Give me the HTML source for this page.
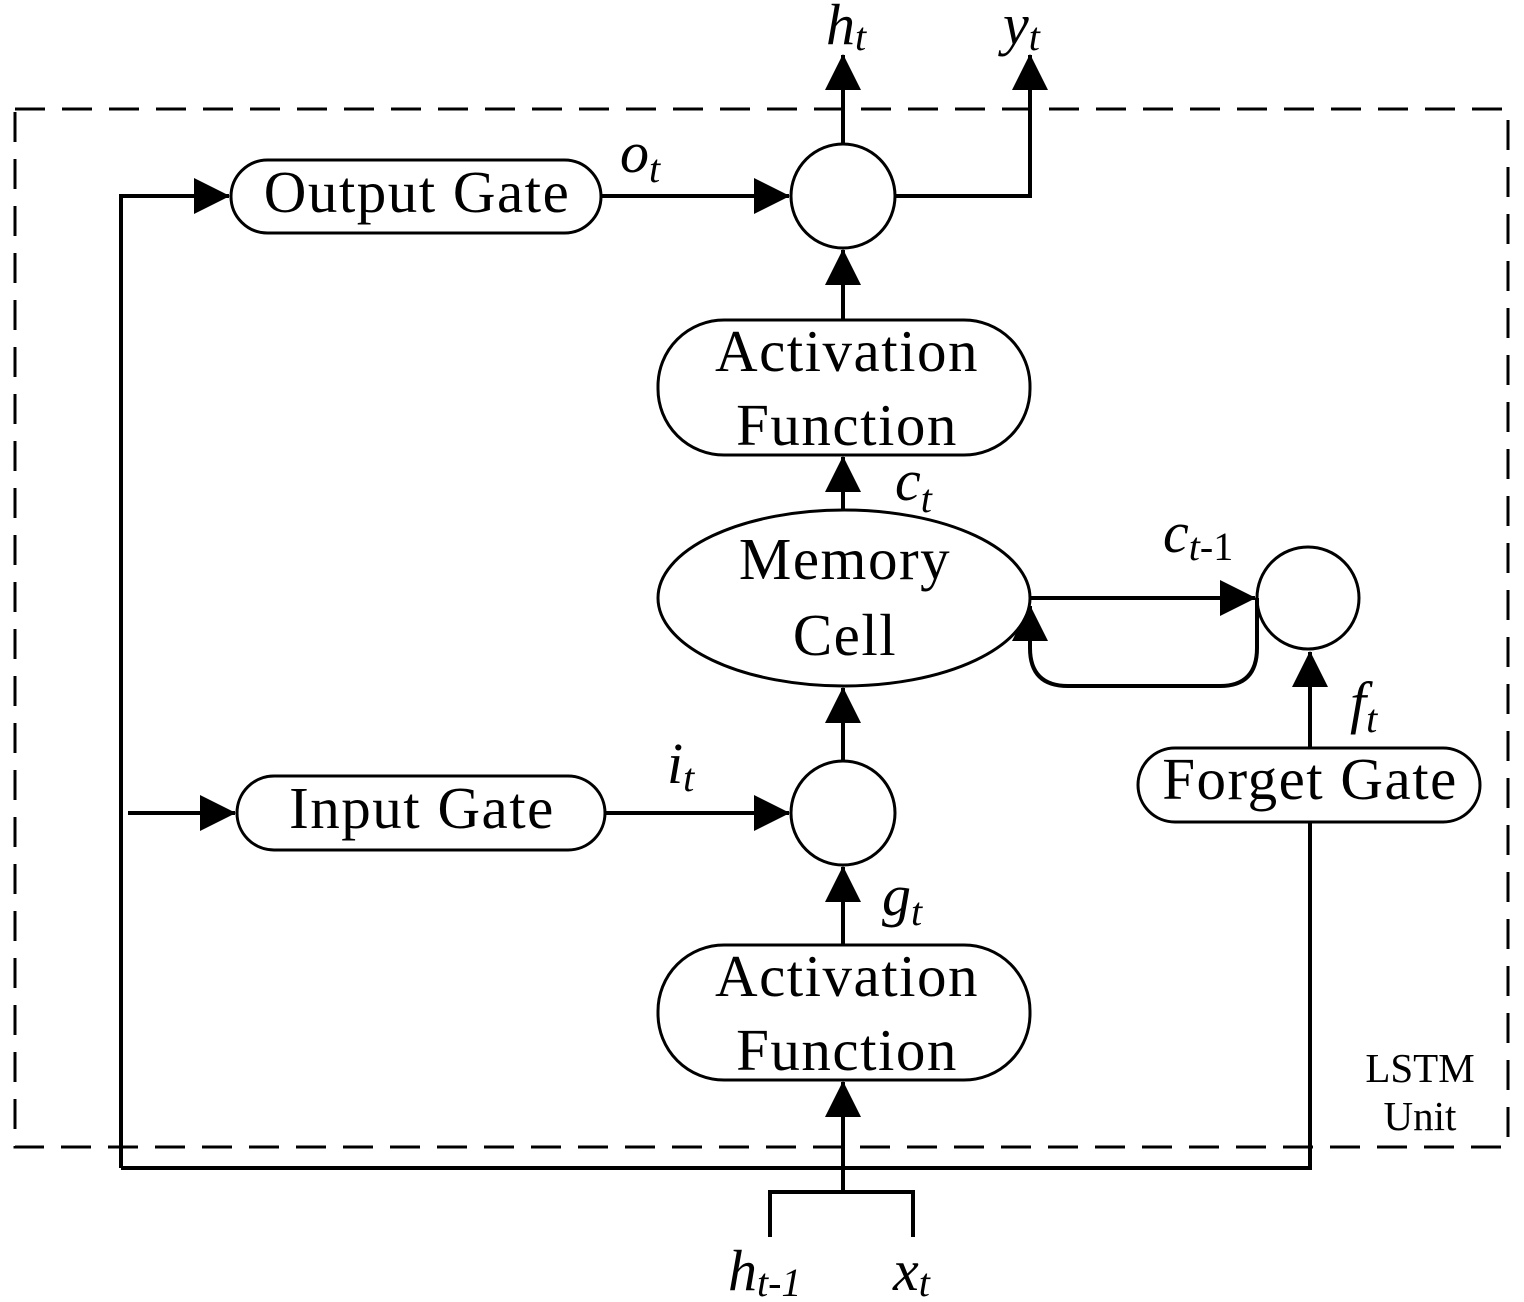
<!DOCTYPE html>
<html><head><meta charset="utf-8"><style>
html,body{margin:0;padding:0;background:#fff;}
svg{display:block;}
text{font-family:"Liberation Serif",serif;fill:#000;}
.l{font-size:59px;letter-spacing:1.5px;}
.i{font-style:italic;font-size:58px;}
.s{font-style:italic;font-size:40px;}
</style></head><body>
<svg width="1524" height="1302" viewBox="0 0 1524 1302" xmlns="http://www.w3.org/2000/svg">
<defs>
<marker id="a" markerWidth="36" markerHeight="36" refX="35" refY="18" orient="auto" markerUnits="userSpaceOnUse">
<path d="M0,0 L36,18 L0,36 Z" fill="#000"/>
</marker>
</defs>
<g fill="none" stroke="#000" stroke-width="3">
<rect x="15" y="109" width="1493" height="1038" stroke-dasharray="30,17"/>
</g>
<g fill="none" stroke="#000" stroke-width="4">
<polyline points="121,1168 121,196 229,196" marker-end="url(#a)"/>
<line x1="128" y1="813" x2="235" y2="813" marker-end="url(#a)"/>
<polyline points="121,1168 1310,1168 1310,822"/>
<line x1="1310" y1="748" x2="1310" y2="652" marker-end="url(#a)"/>
<rect x="231" y="160" width="370" height="73" rx="36.5" stroke-width="3"/>
<line x1="601" y1="196" x2="789" y2="196" marker-end="url(#a)"/>
<circle cx="843" cy="196" r="52" stroke-width="3"/>
<line x1="843" y1="144" x2="843" y2="55" marker-end="url(#a)"/>
<polyline points="895,196 1030,196 1030,55" marker-end="url(#a)"/>
<rect x="658" y="320" width="372" height="135" rx="66" stroke-width="3"/>
<line x1="843" y1="320" x2="843" y2="250" marker-end="url(#a)"/>
<ellipse cx="844" cy="598" rx="186" ry="88" stroke-width="3"/>
<line x1="843" y1="510" x2="843" y2="457" marker-end="url(#a)"/>
<line x1="1030" y1="598" x2="1255" y2="598" marker-end="url(#a)"/>
<circle cx="1308" cy="598" r="51" stroke-width="3"/>
<path d="M1257,598 L1257,648 Q1257,686 1220,686 L1068,686 Q1030,686 1030,648 L1030,606" marker-end="url(#a)"/>
<rect x="1138" y="748" width="342" height="74" rx="37" stroke-width="3"/>
<rect x="237" y="776" width="368" height="74" rx="37" stroke-width="3"/>
<line x1="605" y1="813" x2="789" y2="813" marker-end="url(#a)"/>
<circle cx="843" cy="813" r="52" stroke-width="3"/>
<line x1="843" y1="761" x2="843" y2="688" marker-end="url(#a)"/>
<rect x="658" y="945" width="372" height="135" rx="66" stroke-width="3"/>
<line x1="843" y1="945" x2="843" y2="867" marker-end="url(#a)"/>
<line x1="843" y1="1192" x2="843" y2="1082" marker-end="url(#a)"/>
<polyline points="770,1237 770,1192 913,1192 913,1237"/>
</g>
<g>
<text class="l" x="417" y="212" text-anchor="middle">Output Gate</text>
<text class="l" x="422" y="828" text-anchor="middle">Input Gate</text>
<text class="l" x="1310" y="799" text-anchor="middle">Forget Gate</text>
<text class="l" x="847" y="371" text-anchor="middle">Activation</text>
<text class="l" x="847" y="445" text-anchor="middle">Function</text>
<text class="l" x="847" y="996" text-anchor="middle">Activation</text>
<text class="l" x="847" y="1070" text-anchor="middle">Function</text>
<text class="l" x="845" y="579" text-anchor="middle">Memory</text>
<text class="l" x="845" y="655" text-anchor="middle">Cell</text>
<text x="1420" y="1082" text-anchor="middle" style="font-size:41px">LSTM</text>
<text x="1420" y="1130" text-anchor="middle" style="font-size:41px">Unit</text>
<text class="i" x="826" y="44">h<tspan class="s" dy="6">t</tspan></text>
<text class="i" x="1003" y="44">y<tspan class="s" dy="6">t</tspan></text>
<text class="i" x="620" y="172">o<tspan class="s" dy="10">t</tspan></text>
<text class="i" x="895" y="500">c<tspan class="s" dy="12">t</tspan></text>
<text class="i" x="1163" y="552">c<tspan class="s" dy="8">t</tspan><tspan style="font-style:normal;font-size:40px">-1</tspan></text>
<text class="i" x="1350" y="722">f<tspan class="s" dy="10">t</tspan></text>
<text class="i" x="667" y="783">i<tspan class="s" dy="8">t</tspan></text>
<text class="i" x="882" y="915">g<tspan class="s" dy="10">t</tspan></text>
<text class="i" x="728" y="1290">h<tspan class="s" dy="6">t-1</tspan></text>
<text class="i" x="893" y="1290">x<tspan class="s" dy="6">t</tspan></text>
</g>
</svg>
</body></html>
